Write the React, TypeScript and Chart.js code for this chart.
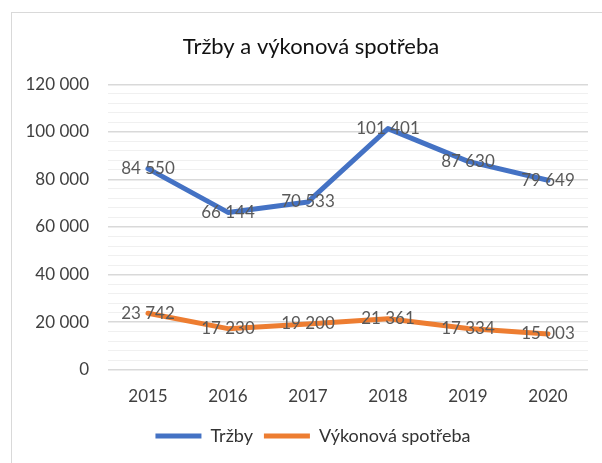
import React, { useEffect, useRef } from "react";
import { Chart, registerables } from "chart.js";

Chart.register(...registerables);

const years = ["2015", "2016", "2017", "2018", "2019", "2020"];
const trzby = [84550, 66144, 70533, 101401, 87630, 79649];
const vykonovaSpotreba = [23742, 17230, 19200, 21361, 17334, 15003];
const yMax = 120000;
const yStep = 4000;
const yMajorStep = 20000;

const FONT = "Lato, 'Open Sans', sans-serif";

const fmt = (v: number) =>
  Math.round(v)
    .toString()
    .replace(/\B(?=(\d{3})+(?!\d))/g, " ");

const borderPlugin = {
  id: "frame",
  beforeDraw(chart: any) {
    const ctx = chart.ctx;
    ctx.save();
    ctx.fillStyle = "#ffffff";
    ctx.fillRect(0, 0, chart.width, chart.height);
    ctx.strokeStyle = "#d9d9d9";
    ctx.lineWidth = 1;
    ctx.strokeRect(11.5, 12.5, 900, 900);
    ctx.restore();
  },
};

// the Excel chart frame extends beyond the window on the right, so the title and
// legend are centred a little to the right of the visible plot area
const centerShiftPlugin = {
  id: "centerShift",
  afterLayout(chart: any) {
    const t = chart.titleBlock;
    if (t) {
      t.left += 6;
      t.right += 6;
    }
    const l = chart.legend;
    if (l) {
      l.left += 8;
      l.right += 8;
    }
  },
};

const labelsPlugin = {
  id: "valueLabels",
  afterDatasetsDraw(chart: any) {
    const ctx = chart.ctx;
    ctx.save();
    ctx.font = `17px ${FONT}`;
    ctx.fillStyle = "#595959";
    ctx.textAlign = "center";
    ctx.textBaseline = "middle";
    chart.data.datasets.forEach((ds: any, i: number) => {
      const meta = chart.getDatasetMeta(i);
      meta.data.forEach((pt: any, j: number) => {
        ctx.fillText(fmt(ds.data[j]), pt.x, pt.y);
      });
    });
    ctx.restore();
  },
};

export default function App() {
  const ref = useRef<HTMLCanvasElement | null>(null);
  useEffect(() => {
    if (!ref.current) return;
    const padLeft = 22;
    const chart = new Chart(ref.current, {
      type: "line",
      data: {
        labels: years,
        datasets: [
          {
            label: "Tržby",
            data: trzby,
            borderColor: "#4472C4",
            backgroundColor: "#4472C4",
            borderWidth: 5,
            borderJoinStyle: "round",
            borderCapStyle: "round",
            pointRadius: 0,
            fill: false,
            tension: 0,
          },
          {
            label: "Výkonová spotřeba",
            data: vykonovaSpotreba,
            borderColor: "#ED7D31",
            backgroundColor: "#ED7D31",
            borderWidth: 5,
            borderJoinStyle: "round",
            borderCapStyle: "round",
            pointRadius: 0,
            fill: false,
            tension: 0,
          },
        ],
      },
      options: {
        responsive: false,
        animation: false,
        layout: { padding: { left: padLeft, right: 14, top: 0, bottom: 8 } },
        plugins: {
          title: {
            display: true,
            text: "Tržby a výkonová spotřeba",
            color: "#111111",
            font: { family: FONT, size: 22, weight: "normal" },
            padding: { top: 34, bottom: 24 },
          },
          legend: {
            position: "bottom",
            labels: {
              boxWidth: 46,
              boxHeight: 5,
              color: "#333333",
              font: { family: FONT, size: 18 },
              padding: 11,
              generateLabels: (c: any) =>
                c.data.datasets.map((ds: any, i: number) => ({
                  text: ds.label,
                  fillStyle: ds.borderColor,
                  strokeStyle: ds.borderColor,
                  lineWidth: 0,
                  fontColor: "#333333",
                  datasetIndex: i,
                  hidden: false,
                })),
            },
          },
          tooltip: { enabled: false },
        },
        scales: {
          x: {
            offset: true,
            grid: { display: false },
            border: { display: false },
            ticks: {
              color: "#404040",
              font: { family: FONT, size: 17 },
              padding: 9,
            },
          },
          y: {
            min: 0,
            max: yMax,
            afterFit: (s: any) => {
              s.width = 108 - padLeft;
            },
            border: { display: false },
            grid: {
              drawTicks: false,
              color: (c: any) =>
                c.tick && c.tick.value % yMajorStep === 0 ? "#d9d9d9" : "#f0f0f0",
              lineWidth: (c: any) =>
                c.tick && c.tick.value % yMajorStep === 0 ? 1.5 : 1,
            },
            ticks: {
              stepSize: yStep,
              autoSkip: false,
              maxTicksLimit: 100,
              color: "#404040",
              padding: 19,
              font: { family: FONT, size: 17 },
              callback: (v: any) => (Number(v) % yMajorStep === 0 ? fmt(Number(v)) : ""),
            },
          },
        },
      },
      plugins: [borderPlugin, centerShiftPlugin, labelsPlugin],
    });
    return () => chart.destroy();
  }, []);
  return (
    <div style={{ position: "absolute", left: 0, top: 0, width: 602, height: 463 }}>
      <canvas ref={ref} width={602} height={463} style={{ display: "block" }} />
    </div>
  );
}
